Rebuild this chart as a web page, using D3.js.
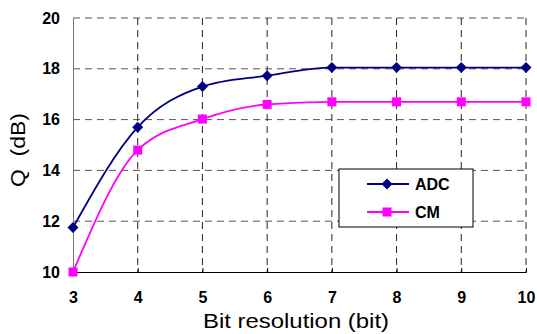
<!DOCTYPE html>
<html>
<head>
<meta charset="utf-8">
<script src="https://cdn.jsdelivr.net/npm/d3@7"></script>
<style>
  body { margin: 0; background: #fff; }
  svg { display: block; font-family: Arial, "Liberation Sans", sans-serif; }
</style>
</head>
<body>
<svg width="537" height="334"></svg>
<script>
const bits = [3, 4, 5, 6, 7, 8, 9, 10]
const adc = [11.75, 15.7, 17.3, 17.73, 18.05, 18.05, 18.05, 18.05]
const cm = [10.0, 14.8, 16.02, 16.6, 16.7, 16.7, 16.7, 16.7]
const yTicks = [10, 12, 14, 16, 18, 20]

const margin = {left: 73, top: 18, right: 11, bottom: 62}
const width = 537, height = 334

const svg = d3.select("svg")

const x = d3.scaleLinear().domain([3, 10]).range([margin.left, width - margin.right])
const y = d3.scaleLinear().domain([10, 20]).range([height - margin.bottom, margin.top])

// grid
svg.append("g").selectAll("line")
    .data(yTicks.slice(1))
    .join("line")
    .attr("x1", x(3)).attr("x2", x(10))
    .attr("y1", d => y(d)).attr("y2", d => y(d))
    .attr("stroke", "#555")
    .attr("stroke-dasharray", "7,5")

svg.append("g").selectAll("line")
    .data(bits.slice(1))
    .join("line")
    .attr("x1", d => x(d)).attr("x2", d => x(d))
    .attr("y1", y(20)).attr("y2", y(10))
    .attr("stroke", "#222")
    .attr("stroke-dasharray", "7,5")

// axes
const xAxis = svg.append("g")
    .attr("transform", `translate(0,${y(10)})`)
    .call(d3.axisBottom(x).tickValues(bits).tickSize(-4).tickPadding(20).tickFormat(d3.format("d")))
xAxis.select(".domain").attr("stroke", "#000")

const yAxis = svg.append("g")
    .attr("transform", `translate(${x(3)},0)`)
    .call(d3.axisLeft(y).tickValues(yTicks).tickSize(0).tickPadding(13))
yAxis.select(".domain").attr("stroke", "#777")

svg.selectAll(".tick text")
    .style("font-size", "16px")
    .style("font-weight", "bold")
    .style("font-family", "Arial, 'Liberation Sans', sans-serif")
    .attr("fill", "#000")

// axis titles
svg.append("text")
    .attr("x", 203).attr("y", 328)
    .attr("textLength", 186)
    .attr("lengthAdjust", "spacingAndGlyphs")
    .style("font-size", "21px")
    .text("Bit resolution (bit)")

svg.append("text")
    .attr("transform", "translate(25,187) rotate(-90)")
    .attr("textLength", 74)
    .attr("lengthAdjust", "spacingAndGlyphs")
    .style("font-size", "21px")
    .style("white-space", "pre")
    .text("Q  (dB)")

// series
const series = [
    {name: "ADC", values: adc, color: "#000080", marker: "diamond"},
    {name: "CM", values: cm, color: "#ff00ff", marker: "square"}
]

const line = d3.line()
    .x((d, i) => x(bits[i]))
    .y(d => y(d))
    .curve(d3.curveMonotoneX)

const drawMarker = (g, type, color, cx, cy) => {
    if (type === "diamond") {
        g.append("path")
            .attr("d", `M${cx},${cy - 5.5}L${cx + 5.5},${cy}L${cx},${cy + 5.5}L${cx - 5.5},${cy}Z`)
            .attr("fill", color)
    } else {
        g.append("rect")
            .attr("x", cx - 4.5).attr("y", cy - 4.5)
            .attr("width", 9).attr("height", 9)
            .attr("fill", color)
    }
}

series.forEach(s => {
    svg.append("path")
        .datum(s.values)
        .attr("d", line)
        .attr("fill", "none")
        .attr("stroke", s.color)
        .attr("stroke-width", 1.8)
    const g = svg.append("g")
    s.values.forEach((v, i) => drawMarker(g, s.marker, s.color, x(bits[i]), y(v)))
})

// legend
const lg = svg.append("g").attr("transform", "translate(339,169)")
lg.append("rect")
    .attr("width", 134).attr("height", 58)
    .attr("fill", "#fff").attr("stroke", "#000")
series.forEach((s, i) => {
    const ly = 15 + i * 28
    lg.append("line")
        .attr("x1", 28).attr("x2", 70)
        .attr("y1", ly).attr("y2", ly)
        .attr("stroke", s.color).attr("stroke-width", 1.8)
    drawMarker(lg, s.marker, s.color, 48, ly)
    lg.append("text")
        .attr("x", 76).attr("y", ly + 6)
        .style("font-size", "16px")
        .style("font-weight", "bold")
        .text(s.name)
})
</script>
</body>
</html>
